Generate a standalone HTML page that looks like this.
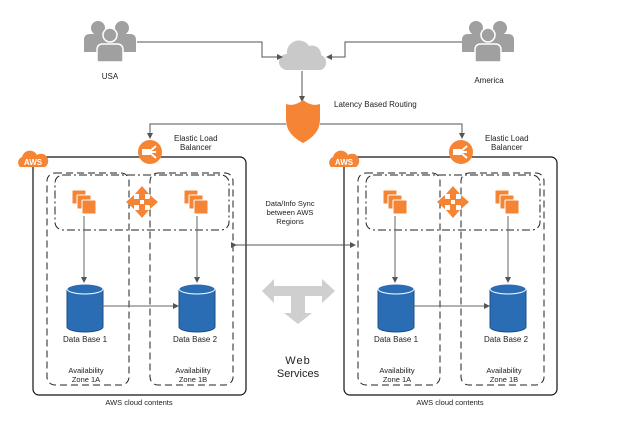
<!DOCTYPE html><html><head><style>body{margin:0;background:#fff}svg{display:block}text{font-family:"Liberation Sans",sans-serif;fill:#222}</style></head><body>
<svg width="619" height="437" viewBox="0 0 619 437" xmlns="http://www.w3.org/2000/svg">
<defs>
<marker id="a" markerWidth="6" markerHeight="6" refX="5" refY="3" orient="auto"><path d="M0,0L6,3L0,6z" fill="#555"/></marker>
<g id="users" fill="#a0a0a0">
<circle cx="-12" cy="-10" r="7"/><circle cx="12" cy="-10" r="7"/>
<path d="M-26,14v-12q0-6 6-6h16q6 0 6 6v12z"/><path d="M26,14v-12q0-6-6-6h-16q-6 0-6 6v12z"/>
<circle cx="0" cy="-3" r="7" stroke="#fff" stroke-width="1.5"/>
<path d="M-13,24v-12q0-6 6-6h14q6 0 6 6v12z" stroke="#fff" stroke-width="1.5"/>
</g>
<g id="ec2" fill="#f58534" stroke="#fff" stroke-width="1"><rect x="0" y="0" width="14" height="14" rx="1"/><rect x="5" y="5" width="14" height="14" rx="1"/><rect x="10" y="10" width="14" height="14" rx="1"/></g>
<g id="db"><path d="M0,6v38a18,5 0 0 0 36,0v-38z" fill="#2a6db5" stroke="#1c4e86"/><ellipse cx="18" cy="6" rx="18" ry="5" fill="#2a6db5" stroke="#fff" stroke-width="1"/></g>
<g id="elb"><circle r="12" fill="#f58534"/><path d="M-7,-2h6v4h-6z M-1,0l7-6 M-1,0h7 M-1,0l7 6" stroke="#fff" stroke-width="2" fill="#fff"/></g>
<g id="aws"><path d="M-12,8a6,6 0 0 1 2-10a8,8 0 0 1 15-2a6,6 0 0 1 8,12z" fill="#f58534"/><text x="1" y="6" font-size="8" font-weight="bold" text-anchor="middle" style="fill:#fff">AWS</text></g>
<g id="diamond" fill="#f58534"><path d="M0,-16l7,8h-4v6h-6v-6h-4z"/><path d="M0,16l7,-8h-4v-6h-6v6h-4z"/><path d="M-16,0l8,-7v4h6v6h-6v4z"/><path d="M16,0l-8,-7v4h-6v6h6v4z"/></g>
<g id="region">
<rect x="33" y="157" width="213" height="238" rx="6" fill="none" stroke="#111" stroke-width="1.2"/>
<rect x="47" y="173" width="82" height="212" rx="8" fill="none" stroke="#222" stroke-dasharray="7,4"/>
<rect x="150" y="173" width="83" height="212" rx="8" fill="none" stroke="#222" stroke-dasharray="7,4"/>
<rect x="55" y="175" width="174" height="55" rx="8" fill="none" stroke="#222" stroke-dasharray="8,3,2,3"/>
<use href="#ec2" x="72" y="190"/><use href="#ec2" x="184" y="190"/>
<use href="#diamond" x="142" y="202"/>
<line x1="84" y1="216" x2="84" y2="282" stroke="#666" marker-end="url(#a)"/>
<line x1="197" y1="216" x2="197" y2="282" stroke="#666" marker-end="url(#a)"/>
<use href="#db" x="67" y="283"/><use href="#db" x="179" y="283"/>
<line x1="100" y1="306" x2="178" y2="306" stroke="#666" marker-end="url(#a)"/>
<text x="85" y="342" font-size="8" text-anchor="middle">Data Base 1</text>
<text x="195" y="342" font-size="8" text-anchor="middle">Data Base 2</text>
<text x="86" y="373" font-size="7.5" text-anchor="middle">Availability</text><text x="86" y="382" font-size="7.5" text-anchor="middle">Zone 1A</text>
<text x="193" y="373" font-size="7.5" text-anchor="middle">Availability</text><text x="193" y="382" font-size="7.5" text-anchor="middle">Zone 1B</text>
<text x="139" y="405" font-size="7.5" text-anchor="middle">AWS cloud contents</text>
<use href="#aws" x="32" y="159"/>
<use href="#elb" x="150" y="152"/>
<text x="174" y="141" font-size="8">Elastic Load</text><text x="180" y="150" font-size="8">Balancer</text>
</g>
</defs>
<use href="#users" x="110" y="38"/><use href="#users" x="488" y="38"/>
<text x="110" y="79" font-size="8" text-anchor="middle">USA</text>
<text x="489" y="83" font-size="8" text-anchor="middle">America</text>
<path d="M287,70a8,8 0 0 1 0-16a12,12 0 0 1 22-8a9,9 0 0 1 12,9a8,8 0 0 1 0,15z" fill="#c9c9c9"/>
<path d="M137,42h125v15h20" fill="none" stroke="#555" marker-end="url(#a)"/>
<path d="M462,42h-117v15h-18" fill="none" stroke="#555" marker-end="url(#a)"/>
<line x1="302" y1="71" x2="302" y2="101" stroke="#555" marker-end="url(#a)"/>
<path d="M286,104q8,3 17-4q9,7 17,4v16q0,14-17,23q-17-9-17-23z" fill="#f58534"/>
<text x="334" y="107" font-size="8">Latency Based Routing</text>
<path d="M286,124h-136v14" fill="none" stroke="#555" marker-end="url(#a)"/>
<path d="M320,124h142v14" fill="none" stroke="#555" marker-end="url(#a)"/>
<use href="#region"/><use href="#region" x="311"/>
<line x1="236" y1="245" x2="355" y2="245" stroke="#555" marker-start="url(#a)" marker-end="url(#a)"/>
<text x="290" y="206" font-size="7.5" text-anchor="middle">Data/Info Sync</text>
<text x="290" y="215" font-size="7.5" text-anchor="middle">between AWS</text>
<text x="290" y="224" font-size="7.5" text-anchor="middle">Regions</text>
<path d="M262,291l12-12v7h48v-7l13,12l-13,12v-7h-17v17h7l-14,11l-14-11h7v-17h-17v7z" fill="#cfcfcf"/>
<text x="298" y="364" font-size="11" text-anchor="middle" letter-spacing="1">Web</text>
<text x="298" y="377" font-size="11" text-anchor="middle">Services</text>
</svg></body></html>
